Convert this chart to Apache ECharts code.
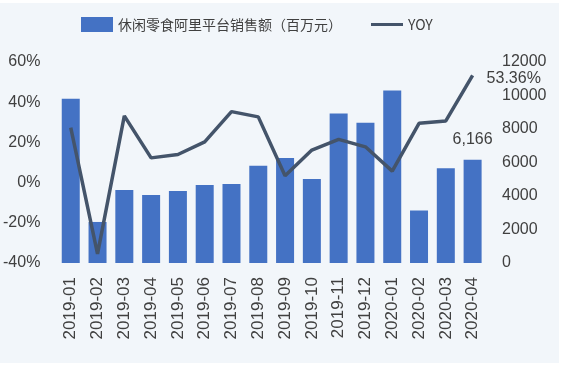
<!DOCTYPE html>
<html>
<head>
<meta charset="utf-8">
<script src="https://cdn.jsdelivr.net/npm/echarts@6/dist/echarts.min.js"></script>
<style>
html,body{margin:0;padding:0;background:#ffffff;}
#panel{position:absolute;left:0;top:3px;width:559px;height:360px;background:#f2f6fa;}
#chart{position:absolute;left:0;top:0;width:574px;height:369px;}
</style>
</head>
<body>
<div id="panel"></div>
<div id="chart"></div>
<script>
const categories = ['2019-01','2019-02','2019-03','2019-04','2019-05','2019-06','2019-07','2019-08','2019-09','2019-10','2019-11','2019-12','2020-01','2020-02','2020-03','2020-04'];
const sales = [9800, 2450, 4360, 4060, 4300, 4660, 4720, 5800, 6270, 5010, 8920, 8380, 10300, 3130, 5660, 6166];
const yoy = [27.3, -35.5, 33.2, 12.3, 14.0, 20.3, 35.3, 32.7, 3.4, 16.2, 21.5, 17.8, 5.7, 29.5, 30.7, 53.36];
const leftTicks = {min: -40, max: 60, interval: 20};
const rightTicks = {min: 0, max: 12000, interval: 2000};
const barName = '休闲零食阿里平台销售额（百万元）';
const lineName = 'YOY';

const FONT = '"Noto Sans CJK SC", "Liberation Sans", sans-serif';
const LAT = '"Liberation Sans", sans-serif';
const TXT = '#404040';
const last = categories.length - 1;

const chart = echarts.init(document.getElementById('chart'), null, {renderer: 'canvas'});
chart.setOption({
  backgroundColor: 'transparent',
  animation: false,
  textStyle: {fontFamily: FONT},
  legend: {
    left: 76, top: 12,
    itemWidth: 32, itemHeight: 15, itemGap: 29,
    textStyle: {fontSize: 14, color: TXT, fontFamily: FONT},
    data: [
      {name: barName, icon: 'rect'},
      {name: lineName, icon: 'path://M0,6 L32,6 L32,9 L0,9 Z'}
    ]
  },
  grid: {left: 56, right: 88, top: 62, bottom: 106},
  xAxis: {
    type: 'category',
    data: categories,
    axisLine: {show: false},
    axisTick: {show: false},
    axisLabel: {rotate: 90, fontSize: 17, color: TXT, margin: 14, fontFamily: LAT}
  },
  yAxis: [
    {
      type: 'value', position: 'left',
      min: leftTicks.min, max: leftTicks.max, interval: leftTicks.interval,
      axisLine: {show: false}, axisTick: {show: false}, splitLine: {show: false},
      axisLabel: {formatter: '{value}%', fontSize: 16, color: TXT, margin: 17, fontFamily: LAT}
    },
    {
      type: 'value', position: 'right',
      min: rightTicks.min, max: rightTicks.max, interval: rightTicks.interval,
      axisLine: {show: false}, axisTick: {show: false}, splitLine: {show: false},
      axisLabel: {formatter: v => String(v), fontSize: 16, color: TXT, margin: 16, fontFamily: LAT}
    }
  ],
  series: [
    {
      name: barName, type: 'bar', yAxisIndex: 1,
      barWidth: 18,
      itemStyle: {color: '#4472c4'},
      data: sales.map((v, i) => i === last ? {
        value: v,
        label: {show: true, position: 'top', distance: 12, fontSize: 16, color: TXT,
          fontFamily: LAT,
          formatter: p => p.value.toLocaleString('en-US')}
      } : v)
    },
    {
      name: lineName, type: 'line', yAxisIndex: 0,
      symbol: 'none', showSymbol: false,
      lineStyle: {color: '#44546a', width: 3.5},
      itemStyle: {color: '#44546a'},
      endLabel: {
        show: true, distance: 14, offset: [0, 3], fontSize: 16, color: TXT,
        fontFamily: LAT,
        formatter: p => Number(p.value).toFixed(2) + '%'
      },
      data: yoy
    }
  ]
});
</script>
</body>
</html>
